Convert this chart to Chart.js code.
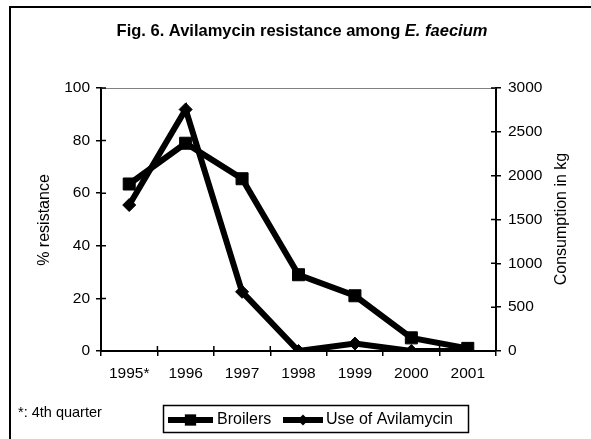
<!DOCTYPE html>
<html>
<head>
<meta charset="utf-8">
<script src="https://cdn.jsdelivr.net/npm/chart.js@4.4.0/dist/chart.umd.min.js"></script>
<style>
    html, body { margin: 0; padding: 0; background: #fff; }
    canvas { display: block; }
</style>
</head>
<body>
<canvas id="chart_avilamycin" width="591" height="439"></canvas>
<script>
const years = ['1995*', '1996', '1997', '1998', '1999', '2000', '2001'];
const broilers = [63.5, 79, 65.5, 29, 21, 5, 1];             // % resistance
const avilamycin_kg = [1665, 2755, 675, 0, 85, 0, 0];        // consumption in kg
const resistance_ticks = [0, 20, 40, 60, 80, 100];
const consumption_ticks = [0, 500, 1000, 1500, 2000, 2500, 3000];

const title_main = 'Fig. 6. Avilamycin resistance among ';
const title_species = 'E. faecium';
const footnote = '*: 4th quarter';

const FONT = '"Liberation Sans", Arial, sans-serif';
Chart.defaults.font.family = FONT;
Chart.defaults.color = '#000';

const draw_marker = (ctx, style, x, y, r) => {
    ctx.beginPath();
    if (style === 'rect') {
        const s = r * Math.SQRT1_2;
        ctx.rect(x - s, y - s, 2 * s, 2 * s);
    } else {
        ctx.moveTo(x - r, y);
        ctx.lineTo(x, y - r);
        ctx.lineTo(x + r, y);
        ctx.lineTo(x, y + r);
        ctx.closePath();
    }
    ctx.fill();
};

// frame, cross ticks, titles, footnote and the boxed key
const decorations = {
    id: 'decorations',
    beforeDraw(chart) {
        const ctx = chart.ctx;
        ctx.save();
        ctx.fillStyle = '#fff';
        ctx.fillRect(0, 0, chart.width, chart.height);
        ctx.strokeStyle = '#000';
        ctx.lineWidth = 2;
        ctx.strokeRect(10, 7, 600, 460);
        ctx.restore();
    },
    beforeDatasetsDraw(chart) {
        const {ctx, chartArea: a, scales} = chart;
        ctx.save();
        ctx.strokeStyle = '#808080';
        ctx.lineWidth = 1;
        ctx.beginPath();
        ctx.moveTo(a.left, a.top + 0.5);
        ctx.lineTo(a.right, a.top + 0.5);
        ctx.stroke();

        ctx.strokeStyle = '#000';
        ctx.lineWidth = 1.5;
        ctx.beginPath();
        scales.y.ticks.forEach((t) => {
            const py = scales.y.getPixelForValue(t.value);
            ctx.moveTo(a.left, py);
            ctx.lineTo(a.left + 5, py);
        });
        scales.y2.ticks.forEach((t) => {
            const py = scales.y2.getPixelForValue(t.value);
            ctx.moveTo(a.right - 5, py);
            ctx.lineTo(a.right, py);
        });
        const step = scales.x.getPixelForValue(1) - scales.x.getPixelForValue(0);
        for (let i = 0; i <= years.length; i++) {
            const px = scales.x.getPixelForValue(0) - step / 2 + i * step;
            ctx.moveTo(px, a.bottom);
            ctx.lineTo(px, a.bottom - 5);
        }
        ctx.stroke();
        ctx.restore();
    },
    afterDraw(chart) {
        const ctx = chart.ctx;
        ctx.save();
        ctx.fillStyle = '#000';
        ctx.textBaseline = 'alphabetic';

        // title, with the species in italics
        ctx.font = 'bold 16.5px ' + FONT;
        const w1 = ctx.measureText(title_main).width;
        ctx.font = 'italic bold 16.5px ' + FONT;
        const w2 = ctx.measureText(title_species).width;
        const tx = 302 - (w1 + w2) / 2;
        ctx.font = 'bold 16.5px ' + FONT;
        ctx.textAlign = 'left';
        ctx.fillText(title_main, tx, 36);
        ctx.font = 'italic bold 16.5px ' + FONT;
        ctx.fillText(title_species, tx + w1, 36);

        // axis titles, both reading upwards
        ctx.font = '16px ' + FONT;
        ctx.textAlign = 'center';
        ctx.textBaseline = 'middle';
        [['% resistance', 45, 220], ['Consumption in kg', 562, 219]].forEach(([txt, x, y]) => {
            ctx.save();
            ctx.translate(x, y);
            ctx.rotate(-Math.PI / 2);
            ctx.fillText(txt, 0, 0);
            ctx.restore();
        });

        // footnote
        ctx.font = '14.5px ' + FONT;
        ctx.textAlign = 'left';
        ctx.fillText(footnote, 18, 413);

        // key
        ctx.strokeStyle = '#000';
        ctx.lineWidth = 1.5;
        ctx.strokeRect(163.5, 405.5, 305, 27);
        const keys = [
            {x0: 168, x1: 213, tx: 217},
            {x0: 283, x1: 323, tx: 326},
        ];
        chart.data.datasets.forEach((ds, i) => {
            const k = keys[i];
            ctx.lineWidth = 6;
            ctx.beginPath();
            ctx.moveTo(k.x0, 420);
            ctx.lineTo(k.x1, 420);
            ctx.stroke();
            draw_marker(ctx, ds.pointStyle, (k.x0 + k.x1) / 2, 420, ds.pointStyle === 'rect' ? 8 : 5.5);
            ctx.font = '16px ' + FONT;
            ctx.fillText(ds.label, k.tx, 420);
        });
        ctx.restore();
    }
};

const chart_avilamycin = document.getElementById('chart_avilamycin');
const chart = new Chart(chart_avilamycin, {
    type: 'line',
    data: {
        labels: years,
        datasets: [
            {
                label: 'Broilers',
                data: broilers,
                yAxisID: 'y',
                borderColor: '#000',
                backgroundColor: '#000',
                borderWidth: 6,
                pointStyle: 'rect',
                pointRadius: 8.5,
                pointBorderWidth: 1,
                tension: 0,
            },
            {
                label: 'Use of Avilamycin',
                data: avilamycin_kg,
                yAxisID: 'y2',
                borderColor: '#000',
                backgroundColor: '#000',
                borderWidth: 6,
                pointStyle: 'rectRot',
                pointRadius: 6.5,
                pointBorderWidth: 1,
                tension: 0,
            }
        ]
    },
    options: {
        responsive: false,
        animation: false,
        devicePixelRatio: 1,
        layout: { padding: { top: 88, left: 0, right: 0, bottom: 0 } },
        plugins: {
            legend: { display: false },
            title: { display: false },
            tooltip: { enabled: false },
        },
        scales: {
            x: {
                offset: true,
                grid: { offset: true, drawOnChartArea: false, tickLength: 5, color: '#000', lineWidth: 1.5 },
                border: { display: true, color: '#000', width: 2 },
                ticks: { font: { size: 15.5 }, padding: 8, maxRotation: 0, autoSkip: false },
                afterFit: (scale) => { scale.height = 88; },
            },
            y: {
                position: 'left',
                min: 0,
                max: 100,
                afterBuildTicks: (scale) => { scale.ticks = resistance_ticks.map((v) => ({value: v})); },
                grid: { drawOnChartArea: false, tickLength: 5, color: '#000', lineWidth: 1.5 },
                border: { display: true, color: '#000', width: 2 },
                ticks: { font: { size: 15.5 }, padding: 6 },
                afterFit: (scale) => { scale.width = 101; },
            },
            y2: {
                position: 'right',
                min: 0,
                max: 3000,
                afterBuildTicks: (scale) => { scale.ticks = consumption_ticks.map((v) => ({value: v})); },
                grid: { drawOnChartArea: false, tickLength: 5, color: '#000', lineWidth: 1.5 },
                border: { display: true, color: '#000', width: 2 },
                ticks: { font: { size: 15.5 }, padding: 7, callback: (v) => String(v) },
                afterFit: (scale) => { scale.width = 95; },
            },
        }
    },
    plugins: [decorations],
});
</script>
</body>
</html>
